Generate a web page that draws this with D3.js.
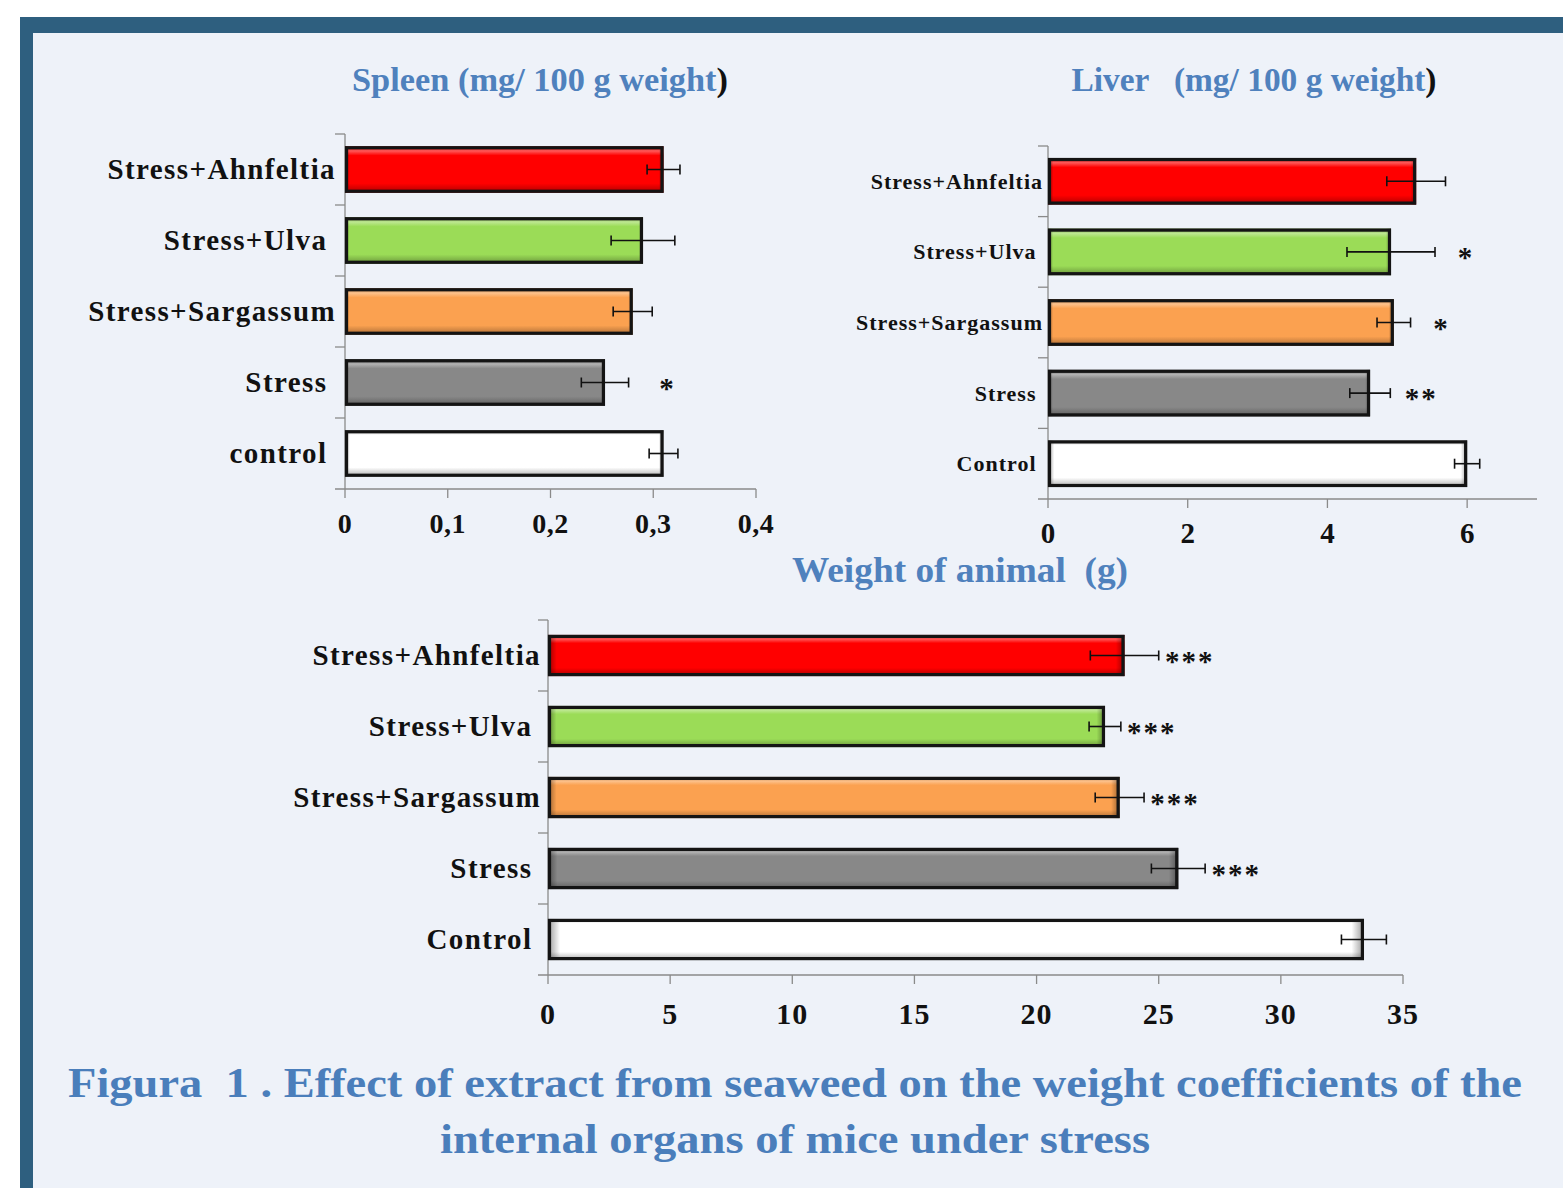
<!DOCTYPE html>
<html><head><meta charset="utf-8">
<script src="https://cdn.jsdelivr.net/npm/d3@7"></script>
<style>
html,body{margin:0;padding:0;background:#fff;}
svg text{font-family:"Liberation Serif","Times New Roman",Times,serif;font-weight:bold;white-space:pre;}
</style></head>
<body>
<svg id="c" width="1563" height="1188"></svg>
<script>
// ---------- data ----------
const groups = ["Stress+Ahnfeltia", "Stress+Ulva", "Stress+Sargassum", "Stress", "Control"];
const spleenLabels = ["Stress+Ahnfeltia", "Stress+Ulva ", "Stress+Sargassum", "Stress ", "control "];
const liverLabels  = ["Stress+Ahnfeltia", "Stress+Ulva ", "Stress+Sargassum", "Stress ", "Control "];
const weightLabels = ["Stress+Ahnfeltia", "Stress+Ulva ", "Stress+Sargassum", "Stress ", "Control "];
const barColors = ["#ff0000", "#9bdc57", "#fba150", "#888888", "#ffffff"];

const spleenValues = [0.310, 0.290, 0.280, 0.253, 0.310];
const spleenErrors = [0.016, 0.031, 0.019, 0.023, 0.014];
const spleenSig    = ["", "", "", "*", ""];
const spleenTickValues = [0, 0.1, 0.2, 0.3, 0.4];
const spleenTickLabels = ["0", "0,1", "0,2", "0,3", "0,4"];

const liverValues = [5.27, 4.91, 4.95, 4.61, 6.00];
const liverErrors = [0.42, 0.63, 0.24, 0.29, 0.18];
const liverSig    = ["", "*", "*", "**", ""];
const liverTickValues = [0, 2, 4, 6];
const liverTickLabels = ["0", "2", "4", "6"];

const weightValues = [23.6, 22.8, 23.4, 25.8, 33.4];
const weightErrors = [1.4, 0.65, 1.0, 1.1, 0.92];
const weightSig    = ["***", "***", "***", "***", ""];
const weightTickValues = [0, 5, 10, 15, 20, 25, 30, 35];
const weightTickLabels = ["0", "5", "10", "15", "20", "25", "30", "35"];

// ---------- frame ----------
const svg = d3.select("#c");
svg.append("rect").attr("x",20).attr("y",17).attr("width",1600).attr("height",1300).attr("fill","#2e5f7f");
svg.append("rect").attr("x",33).attr("y",33).attr("width",1600).attr("height",1300).attr("fill","#eef2f9");

// gradients
const defs = svg.append("defs");
barColors.forEach((c,i)=>{
  const base = d3.color(c);
  const g = defs.append("linearGradient").attr("id","g"+i).attr("x1",0).attr("y1",0).attr("x2",0).attr("y2",1);
  const hl = d3.interpolateRgb(c, "#ffffff")(0.35);
  const dk = base.darker(1.1).formatHex();
  g.append("stop").attr("offset","0%").attr("stop-color",dk);
  g.append("stop").attr("offset","10%").attr("stop-color",hl);
  g.append("stop").attr("offset","20%").attr("stop-color",c);
  g.append("stop").attr("offset","80%").attr("stop-color",c);
  g.append("stop").attr("offset","100%").attr("stop-color",dk);
  const h = defs.append("linearGradient").attr("id","h"+i).attr("x1",0).attr("y1",0).attr("x2",1).attr("y2",0);
  h.append("stop").attr("offset","0%").attr("stop-color","#000").attr("stop-opacity",0.4);
  h.append("stop").attr("offset","1.5%").attr("stop-color","#000").attr("stop-opacity",0);
  h.append("stop").attr("offset","98.5%").attr("stop-color","#000").attr("stop-opacity",0);
  h.append("stop").attr("offset","100%").attr("stop-color","#000").attr("stop-opacity",0.4);
});

function drawChart(o){
  const g = svg.append("g");
  const x = d3.scaleLinear().domain(o.domain).range([o.x0, o.x1]);
  const y = d3.scaleBand().domain(groups).range([o.y0, o.y1]).paddingInner(o.pad).paddingOuter(o.pad/2);
  const axisCol = "#8a8a8a";
  g.append("line").attr("x1",o.x0).attr("x2",o.x0).attr("y1",o.y0).attr("y2",o.y1).attr("stroke",axisCol).attr("stroke-width",1.3);
  const bounds = groups.map((d,i)=> o.y0 + i*y.step());
  g.selectAll(".ct").data(bounds).join("line")
    .attr("x1",o.x0-10).attr("x2",o.x0).attr("y1",d=>d).attr("y2",d=>d).attr("stroke",axisCol).attr("stroke-width",1.3);
  g.append("line").attr("x1",o.x0-10).attr("x2",o.x1).attr("y1",o.y1).attr("y2",o.y1).attr("stroke",axisCol).attr("stroke-width",1.3);
  g.selectAll(".xt").data(o.tickValues).join("line")
    .attr("x1",d=>x(d)).attr("x2",d=>x(d)).attr("y1",o.y1).attr("y2",o.y1+9).attr("stroke",axisCol).attr("stroke-width",1.3);
  g.selectAll(".xl").data(o.tickValues).join("text")
    .attr("x",d=>x(d)).attr("y",o.y1+o.tickDy).attr("text-anchor","middle")
    .attr("font-size",o.tickFs).attr("letter-spacing",o.tickLs).attr("fill","#111")
    .text((d,i)=>o.tickLabels[i]);
  g.selectAll(".cl").data(groups).join("text")
    .attr("x",o.x0-o.labelGap).attr("y",d=>y(d)+y.bandwidth()/2 + o.labelFs*0.34)
    .attr("text-anchor","end").attr("font-size",o.labelFs).attr("letter-spacing",o.labelLs).attr("fill","#111")
    .text((d,i)=>o.labels[i]);
  const bars = g.selectAll(".b").data(groups).join("g");
  bars.append("rect")
    .attr("x",x(0)).attr("y",d=>y(d)).attr("width",(d,i)=>x(o.values[i])-x(0)).attr("height",y.bandwidth())
    .attr("fill",(d,i)=>"url(#g"+i+")");
  bars.append("rect")
    .attr("x",x(0)).attr("y",d=>y(d)).attr("width",(d,i)=>x(o.values[i])-x(0)).attr("height",y.bandwidth())
    .attr("fill",(d,i)=>"url(#h"+i+")");
  bars.append("rect")
    .attr("x",x(0)+1.5).attr("y",d=>y(d)+1.5).attr("width",(d,i)=>x(o.values[i])-x(0)-3).attr("height",y.bandwidth()-3)
    .attr("fill","none").attr("stroke","#141414").attr("stroke-width",3.2);
  const eb = g.selectAll(".e").data(groups).join("g").attr("stroke","#111").attr("stroke-width",1.6);
  const cy = d=>y(d)+y.bandwidth()/2;
  eb.append("line").attr("x1",(d,i)=>x(o.values[i]-o.errors[i])).attr("x2",(d,i)=>x(o.values[i]+o.errors[i]))
    .attr("y1",cy).attr("y2",cy);
  eb.append("line").attr("x1",(d,i)=>x(o.values[i]-o.errors[i])).attr("x2",(d,i)=>x(o.values[i]-o.errors[i]))
    .attr("y1",d=>cy(d)-5).attr("y2",d=>cy(d)+5);
  eb.append("line").attr("x1",(d,i)=>x(o.values[i]+o.errors[i])).attr("x2",(d,i)=>x(o.values[i]+o.errors[i]))
    .attr("y1",d=>cy(d)-5).attr("y2",d=>cy(d)+5);
  g.selectAll(".s").data(groups).join("text")
    .attr("x",(d,i)=>x(o.values[i]+o.errors[i])+o.sigGap).attr("y",d=>cy(d)+15)
    .attr("text-anchor","middle").attr("font-size",29).attr("letter-spacing",2).attr("fill","#111")
    .text((d,i)=>o.sig[i]);
}

drawChart({values:spleenValues, errors:spleenErrors, sig:spleenSig, labels:spleenLabels,
  domain:[0,0.4], x0:345, x1:756, y0:134, y1:489, pad:0.345,
  tickValues:spleenTickValues, tickLabels:spleenTickLabels, tickDy:44, tickFs:28, tickLs:0.5,
  labelGap:9, labelFs:29, labelLs:1.4, sigGap:39});

drawChart({values:liverValues, errors:liverErrors, sig:liverSig, labels:liverLabels,
  domain:[0,7], x0:1048, x1:1537, y0:146, y1:499, pad:0.34,
  tickValues:liverTickValues, tickLabels:liverTickLabels, tickDy:44, tickFs:29, tickLs:0,
  labelGap:5, labelFs:22, labelLs:1, sigGap:31});

drawChart({values:weightValues, errors:weightErrors, sig:weightSig, labels:weightLabels,
  domain:[0,35], x0:548, x1:1403, y0:620, y1:975, pad:0.42,
  tickValues:weightTickValues, tickLabels:weightTickLabels, tickDy:49, tickFs:30, tickLs:1,
  labelGap:7, labelFs:29, labelLs:1.4, sigGap:31});

// titles
const blue = "#4f81bd";
function title(x,y,fs,len,parts){
  const t = svg.append("text").attr("x",x).attr("y",y).attr("text-anchor","middle").attr("font-size",fs)
    .attr("textLength",len).attr("lengthAdjust","spacingAndGlyphs");
  parts.forEach(p=> t.append("tspan").attr("fill",p[1]).text(p[0]));
}
title(540, 91, 33, 376, [["Spleen (mg/ 100 g weight", blue], [")", "#111"]]);
title(1254, 91, 33, 365, [["Liver   (mg/ 100 g weight", blue], [")", "#111"]]);
title(960, 582, 36, 336, [["Weight of animal  (g)", blue]]);

svg.append("text").attr("x",795).attr("y",1097).attr("text-anchor","middle").attr("font-size",42)
  .attr("fill","#4a7ebb").attr("textLength",1454).attr("lengthAdjust","spacingAndGlyphs")
  .text("Figura  1 . Effect of extract from seaweed on the weight coefficients of the");
svg.append("text").attr("x",795).attr("y",1153).attr("text-anchor","middle").attr("font-size",42)
  .attr("fill","#4a7ebb").attr("textLength",710).attr("lengthAdjust","spacingAndGlyphs")
  .text("internal organs of mice under stress");
</script>
</body></html>
